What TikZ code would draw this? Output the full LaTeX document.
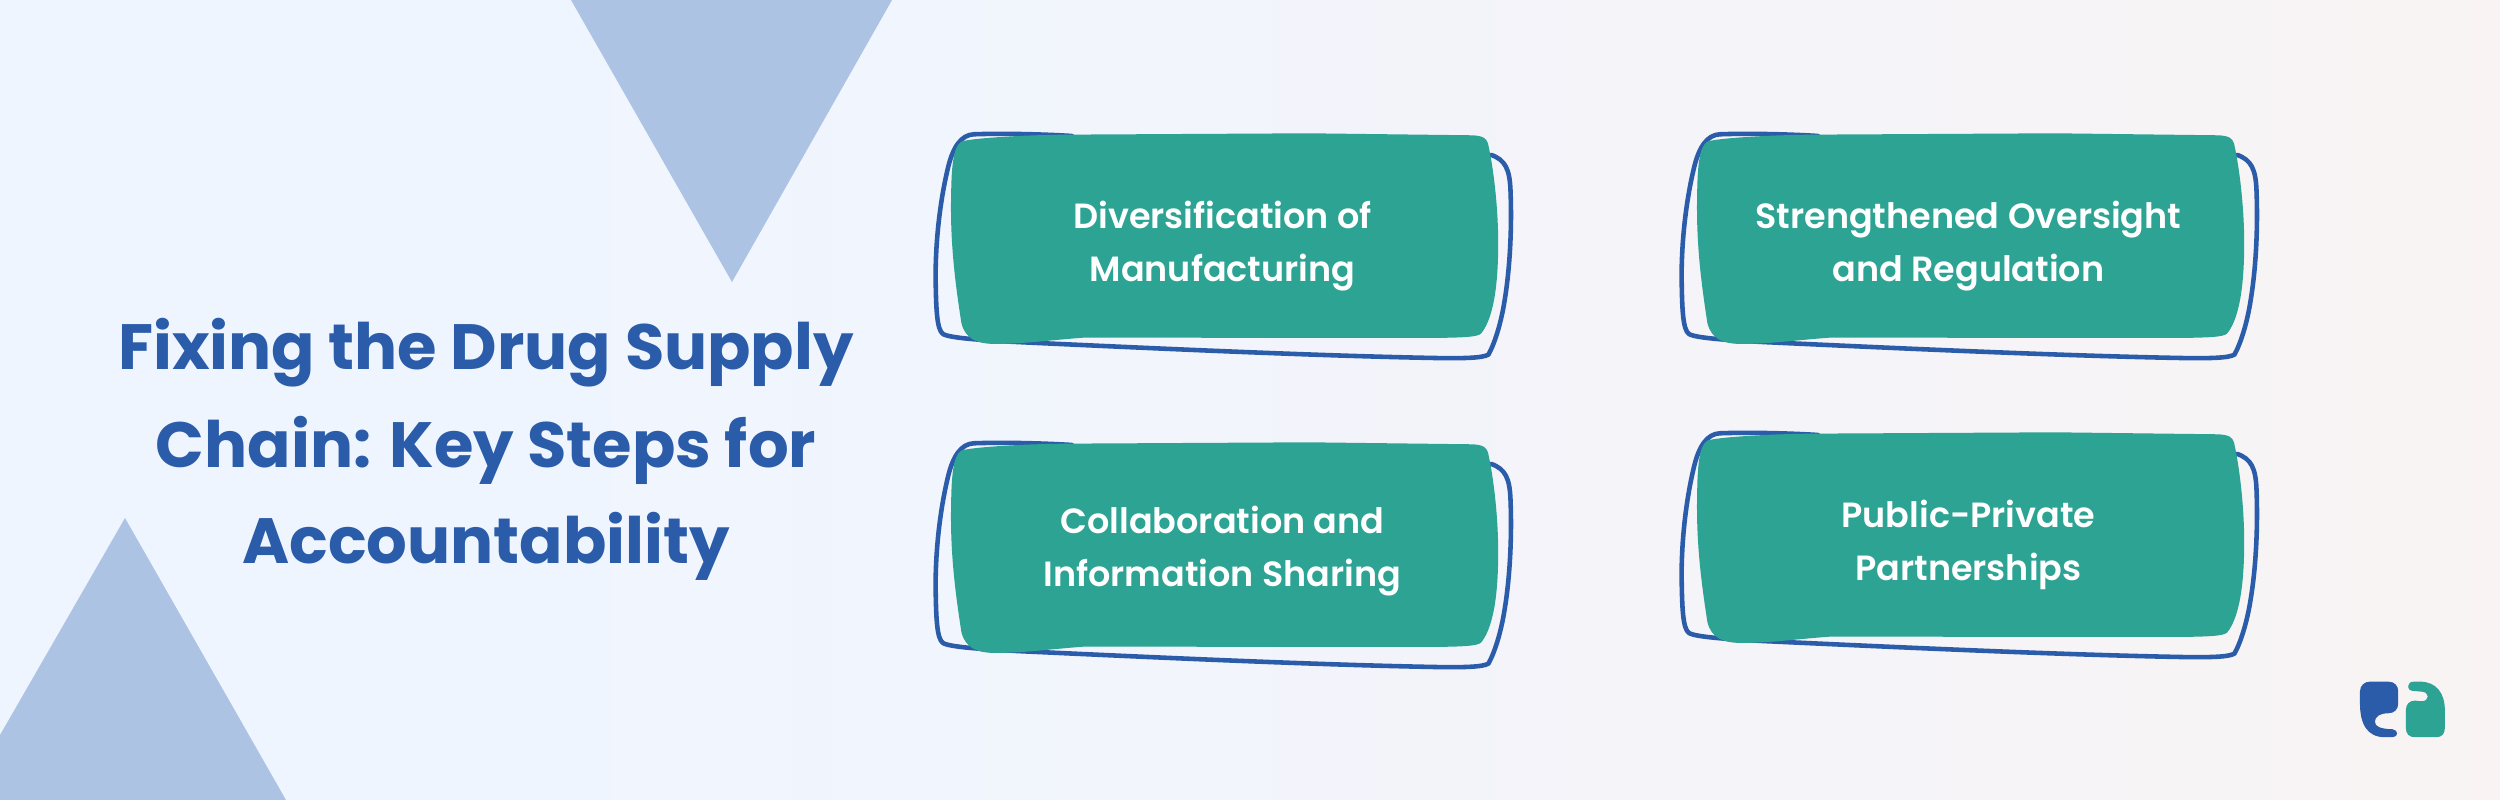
\documentclass[tikz,border=0pt]{standalone}
\usepackage{fontspec}
\setmainfont{Poppins}
\newfontfamily\cardfont{Poppins SemiBold}
\definecolor{bgblue}{HTML}{EFF5FF}
\definecolor{bgmid}{HTML}{F6F4F7}
\definecolor{bgpeach}{HTML}{FEF4ED}
\definecolor{triblue}{HTML}{ACC3E3}
\definecolor{inkblue}{HTML}{2A5CAA}
\definecolor{cardteal}{HTML}{2DA394}
\pgfdeclarehorizontalshading{pagewash}{100bp}{color(0bp)=(bgblue); color(35bp)=(bgblue); color(66bp)=(bgmid); color(90bp)=(bgpeach); color(100bp)=(bgpeach)}
\tikzset{
  triangle/.style={fill=triblue,draw=none},
  titleline/.style={text=inkblue,font=\fontsize{18.2}{23}\selectfont\bfseries,inner sep=0pt},
  cardlabel/.style={text=white,align=center,inner sep=0pt,font=\cardfont\fontsize{9.95}{15.1}\selectfont},
  pics/card/.style 2 args={code={
    \begin{scope}[x=0.004082cm,y=-0.003333cm]
      \draw[inkblue,line width=1.3pt,line cap=round,line join=round]
        (1445,135) .. controls (1480,150) and (1490,180) .. (1492,240)
        .. controls (1496,360) and (1490,480) .. (1478,570)
        .. controls (1468,650) and (1450,710) .. (1438,735)
        .. controls (1425,745) and (1380,747) .. (1300,745)
        .. controls (1000,738) and (600,715) .. (300,698)
        .. controls (200,692) and (120,685) .. (105,673)
        .. controls (90,660) and (88,600) .. (87,500)
        .. controls (87,380) and (100,260) .. (118,170)
        .. controls (130,110) and (150,75) .. (180,73)
        .. controls (240,70) and (340,72) .. (420,78);
      \fill[cardteal]
        (150,95) .. controls (170,85) and (300,75) .. (410,74)
        -- (1000,70) -- (1400,76)
        .. controls (1425,78) and (1433,85) .. (1437,100)
        .. controls (1450,170) and (1462,290) .. (1462,400)
        .. controls (1462,500) and (1455,620) .. (1420,672)
        .. controls (1410,682) and (1380,684) .. (1300,685)
        -- (450,684)
        .. controls (380,690) and (300,703) .. (235,703)
        .. controls (190,703) and (160,690) .. (150,640)
        .. controls (135,520) and (122,400) .. (125,250)
        .. controls (126,170) and (130,110) .. (150,95) -- cycle;
      \node[cardlabel] (-label) at (788,#2) {#1};
    \end{scope}
  }}
}
\begin{document}
\begin{tikzpicture}[x=0.01cm,y=-0.01cm]
  \useasboundingbox (0,0) rectangle (2500,800);
  \shade[shading=pagewash] (0,0) rectangle (2500,800);

  % corner triangles
  \fill[triangle] (571,0) -- (892,0) -- (732,282) -- cycle;
  \fill[triangle] (125,518) -- (286,800) -- (0,800) -- (0,735) -- cycle;

  \node[titleline] (title1) at (486,353) {Fixing the Drug Supply};
  \node[titleline] (title2) at (486,450) {Chain: Key Steps for};
  \node[titleline] (title3) at (486,546) {Accountability};

  \pic (diversify) at (900,110) {card={Diversification of\\Manufacturing}{408}};
  \pic (oversight) at (1646,110) {card={Strengthened Oversight\\and Regulation}{408}};
  \pic (sharing) at (900,419) {card={Collaboration and\\Information Sharing}{398}};
  \pic (partners) at (1646,409) {card={Public-Private\\Partnerships}{408}};

  % logo
  \begin{scope}[shift={(2320,660)},x=0.003333cm,y=-0.003333cm]
    \fill[inkblue] (120,95) .. controls (120,75) and (135,65) .. (150,65)
      -- (205,65) .. controls (225,65) and (235,78) .. (235,95)
      -- (235,130) .. controls (235,150) and (222,160) .. (205,160)
      .. controls (180,160) and (165,170) .. (165,185)
      .. controls (165,200) and (180,207) .. (218,208)
      .. controls (236,210) and (236,232) .. (218,232)
      -- (195,232) .. controls (140,232) and (120,190) .. (120,130) -- cycle;
    \fill[cardteal] (265,78) .. controls (265,70) and (272,65) .. (282,65)
      -- (300,65) .. controls (350,65) and (375,100) .. (375,150)
      -- (375,205) .. controls (375,222) and (365,232) .. (350,232)
      -- (285,232) .. controls (268,232) and (258,222) .. (258,205)
      -- (258,150) .. controls (258,132) and (270,122) .. (285,122)
      -- (305,124) .. controls (330,124) and (330,96) .. (305,95)
      -- (280,93) .. controls (270,92) and (265,88) .. (265,78) -- cycle;
  \end{scope}
\end{tikzpicture}
\end{document}
